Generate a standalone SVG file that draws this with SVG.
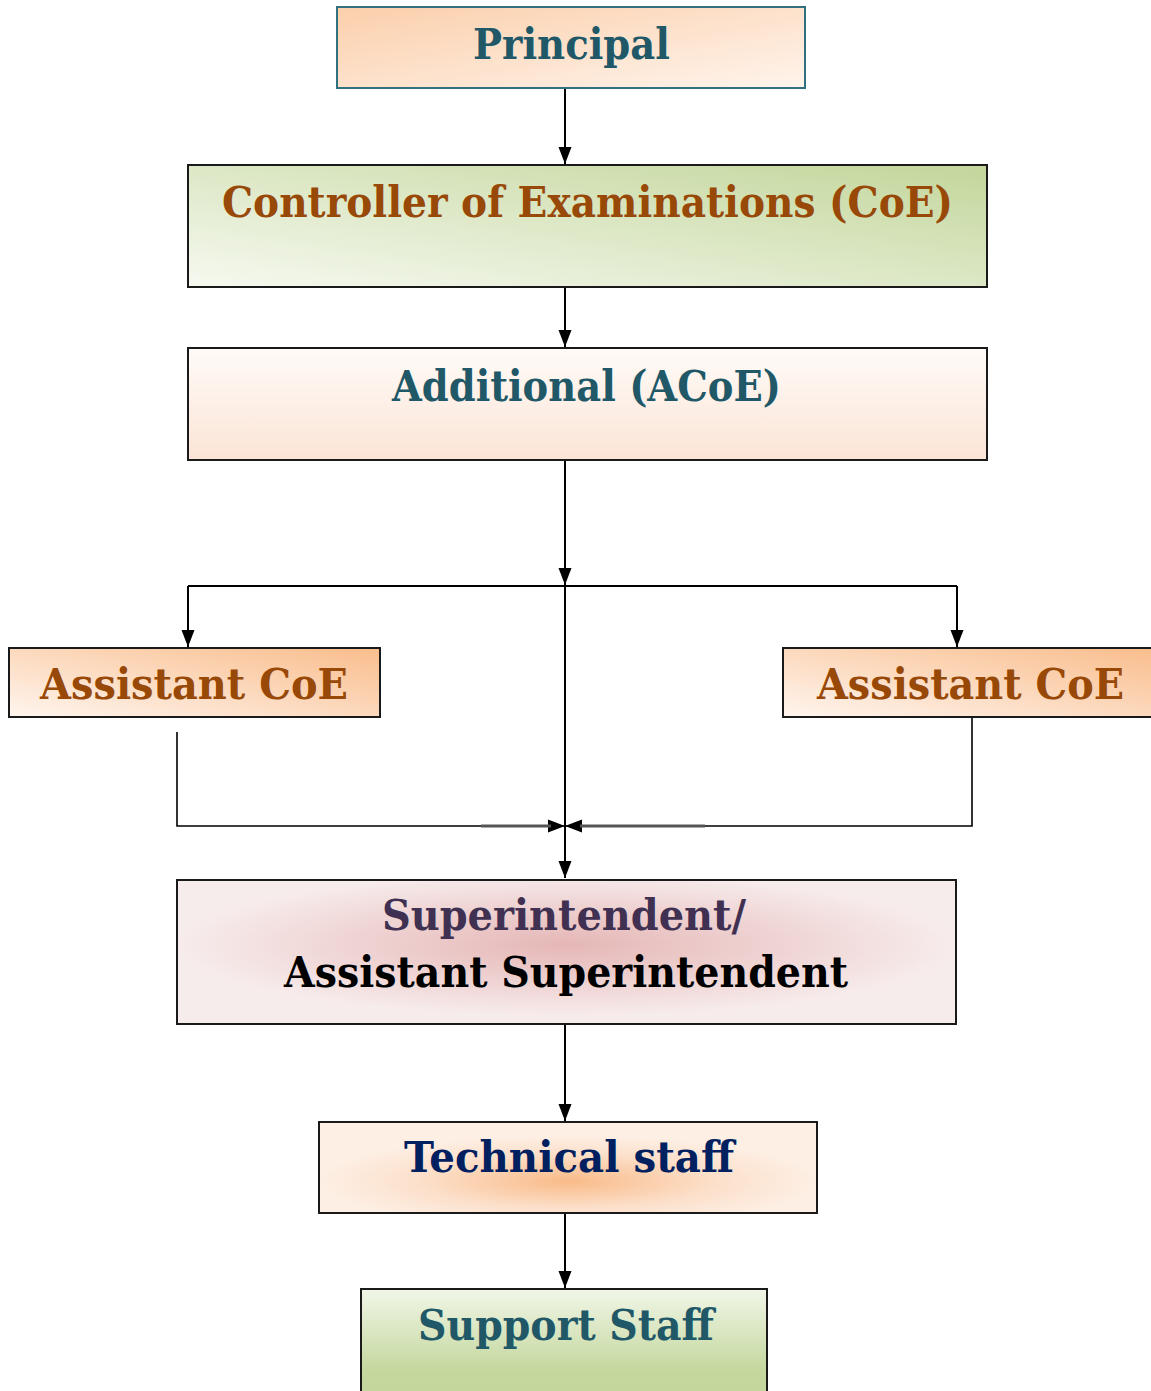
<svg xmlns="http://www.w3.org/2000/svg" width="1151" height="1391" viewBox="0 0 1151 1391">
<style>
  .box { stroke: #1a1a1a; stroke-width: 2; }
  .lbl { font-family: "DejaVu Serif", "Liberation Serif", serif; font-weight: bold; font-size: 42px; }
  .teal { fill: #215868; }
  .brown { fill: #984807; }
  .conn { fill: none; stroke: #000; stroke-width: 2; }
  .thin { fill: none; stroke: #000; stroke-width: 1.6; }
  .grey { fill: none; stroke: #555; stroke-width: 3; }
</style>
<defs>
  <marker id="arr" markerUnits="userSpaceOnUse" markerWidth="18" markerHeight="14" refX="17" refY="7" orient="auto">
    <path d="M0,0.5 L17,7 L0,13.5 z" fill="#000"/>
  </marker>
  <linearGradient id="gPrin" x1="0" y1="0" x2="1" y2="1">
    <stop offset="0" stop-color="#fbcfab"/>
    <stop offset="1" stop-color="#fff4ec"/>
  </linearGradient>
  <linearGradient id="gCoE" x1="1" y1="0" x2="0" y2="1">
    <stop offset="0" stop-color="#c3d69b"/>
    <stop offset="1" stop-color="#f6f9f0"/>
  </linearGradient>
  <linearGradient id="gACoE" x1="0" y1="0" x2="0" y2="1">
    <stop offset="0" stop-color="#fffbf8"/>
    <stop offset="1" stop-color="#fbe4d6"/>
  </linearGradient>
  <linearGradient id="gAsst" x1="1" y1="0" x2="0" y2="1">
    <stop offset="0" stop-color="#f9bd8c"/>
    <stop offset="1" stop-color="#fff5ee"/>
  </linearGradient>
  <radialGradient id="gSup" cx="0.5" cy="0.45" r="0.5">
    <stop offset="0" stop-color="#e5b7b6"/>
    <stop offset="0.6" stop-color="#f0d6d6"/>
    <stop offset="1" stop-color="#f7ecec"/>
  </radialGradient>
  <radialGradient id="gTech" cx="0.5" cy="0.65" r="0.5">
    <stop offset="0" stop-color="#f9bb88"/>
    <stop offset="0.6" stop-color="#fce0cb"/>
    <stop offset="1" stop-color="#fdefe4"/>
  </radialGradient>
  <linearGradient id="gSupp" x1="0" y1="0" x2="0" y2="1">
    <stop offset="0" stop-color="#f1f6e8"/>
    <stop offset="0.75" stop-color="#c4d79d"/>
    <stop offset="1" stop-color="#c3d69b"/>
  </linearGradient>
</defs>

<g id="connectors">
  <line class="conn" x1="565" y1="89" x2="565" y2="164" marker-end="url(#arr)"/>
  <line class="conn" x1="565" y1="288" x2="565" y2="347" marker-end="url(#arr)"/>
  <line class="conn" x1="565" y1="461" x2="565" y2="585" marker-end="url(#arr)"/>
  <line class="conn" x1="188" y1="586" x2="957" y2="586"/>
  <line class="conn" x1="188" y1="586" x2="188" y2="647" marker-end="url(#arr)"/>
  <line class="conn" x1="957" y1="586" x2="957" y2="647" marker-end="url(#arr)"/>
  <line class="conn" x1="565" y1="586" x2="565" y2="878" marker-end="url(#arr)"/>
  <path class="thin" d="M177,732 V826 H565" marker-end="url(#arr)"/>
  <path class="thin" d="M972,718 V826 H565" marker-end="url(#arr)"/>
  <line class="grey" x1="481" y1="826" x2="551" y2="826"/>
  <line class="grey" x1="580" y1="826" x2="705" y2="826"/>
  <line class="conn" x1="565" y1="1025" x2="565" y2="1121" marker-end="url(#arr)"/>
  <line class="conn" x1="565" y1="1214" x2="565" y2="1288" marker-end="url(#arr)"/>
</g>

<g id="principal">
  <rect x="337" y="7" width="468" height="81" fill="url(#gPrin)" stroke="#31707f" stroke-width="2"/>
  <text class="lbl teal" x="473" y="59" textLength="197" lengthAdjust="spacingAndGlyphs">Principal</text>
</g>

<g id="coe">
  <rect class="box" x="188" y="165" width="799" height="122" fill="url(#gCoE)"/>
  <text class="lbl brown" x="222" y="217" textLength="731" lengthAdjust="spacingAndGlyphs">Controller of Examinations (CoE)</text>
</g>

<g id="acoe">
  <rect class="box" x="188" y="348" width="799" height="112" fill="url(#gACoE)"/>
  <text class="lbl teal" x="392" y="401" textLength="389" lengthAdjust="spacingAndGlyphs">Additional (ACoE)</text>
</g>

<g id="asst-left">
  <rect class="box" x="9" y="648" width="371" height="69" fill="url(#gAsst)"/>
  <text class="lbl brown" x="40" y="699" textLength="308" lengthAdjust="spacingAndGlyphs">Assistant CoE</text>
</g>

<g id="asst-right">
  <rect class="box" x="783" y="648" width="372" height="69" fill="url(#gAsst)"/>
  <text class="lbl brown" x="817" y="699" textLength="307" lengthAdjust="spacingAndGlyphs">Assistant CoE</text>
</g>

<g id="superintendent">
  <rect class="box" x="177" y="880" width="779" height="144" fill="url(#gSup)"/>
  <text class="lbl" fill="#403152" x="382" y="930" textLength="364" lengthAdjust="spacingAndGlyphs">Superintendent/</text>
  <text class="lbl" fill="#000" x="284" y="987" textLength="564" lengthAdjust="spacingAndGlyphs">Assistant Superintendent</text>
</g>

<g id="technical">
  <rect class="box" x="319" y="1122" width="498" height="91" fill="url(#gTech)"/>
  <text class="lbl" fill="#002060" x="404" y="1172" textLength="330" lengthAdjust="spacingAndGlyphs">Technical staff</text>
</g>

<g id="support">
  <rect class="box" x="361" y="1289" width="406" height="110" fill="url(#gSupp)"/>
  <text class="lbl teal" x="418" y="1340" textLength="296" lengthAdjust="spacingAndGlyphs">Support Staff</text>
</g>
</svg>
